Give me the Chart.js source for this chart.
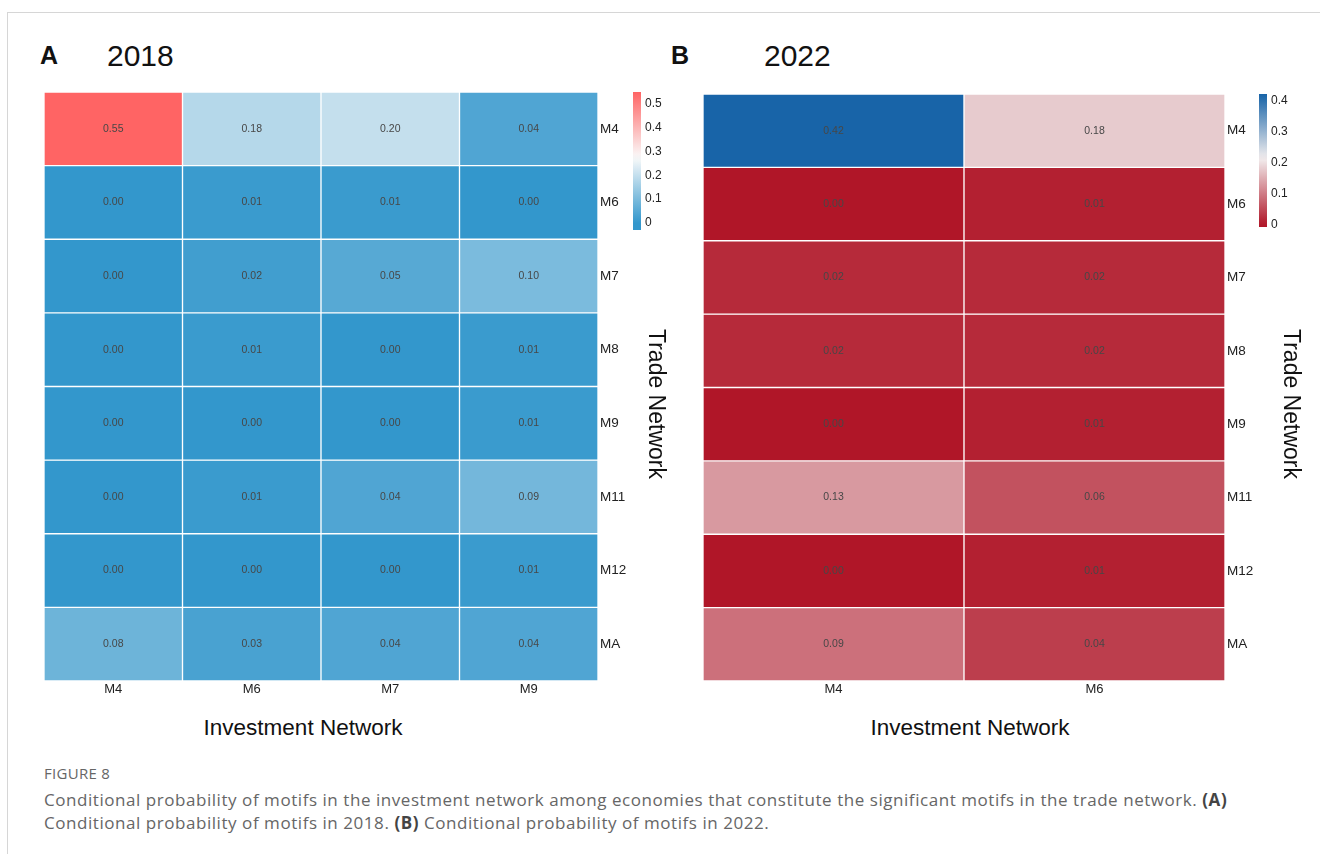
<!DOCTYPE html>
<html>
<head>
<meta charset="utf-8">
<script src="https://cdn.jsdelivr.net/npm/chart.js@4"></script>
<style>
  body { margin: 0; background: #fff; width: 1320px; height: 854px; position: relative; overflow: hidden; font-family: "Liberation Sans", Arial, sans-serif; }
  .frame { position: absolute; left: 7px; top: 12px; right: 0; bottom: 0; border-top: 1px solid #d6d6d6; border-left: 1px solid #d6d6d6; }
  .abs { position: absolute; }
  .panel { font-weight: bold; font-size: 25px; color: #111; }
  .year { font-size: 30px; color: #111; }
  .xtitle { font-size: 22.5px; color: #111; width: 300px; text-align: center; }
  .ytitle { font-size: 23px; color: #111; width: 200px; height: 28px; line-height: 28px; text-align: center; transform: rotate(90deg); }
  .fig { font-family: "Open Sans", sans-serif; font-size: 15px; color: #666; letter-spacing: 0.3px; }
  .cap { font-family: "Open Sans", sans-serif; font-size: 17px; letter-spacing: 0.55px; color: #666; line-height: 23px; width: 1250px; }
  .cap b { color: #444; }
  canvas { position: absolute; }
</style>
</head>
<body>
<div class="frame"></div>
<div class="abs panel" style="left:40px; top:41px;">A</div>
<div class="abs year" style="left:107px; top:39px;">2018</div>
<div class="abs panel" style="left:671px; top:41px;">B</div>
<div class="abs year" style="left:764px; top:39px;">2022</div>

<canvas id="heatA" width="594" height="613" style="left:44px; top:92px;"></canvas>
<canvas id="barA" width="40" height="152" style="left:633px; top:85px;"></canvas>
<canvas id="heatB" width="562" height="611" style="left:703px; top:94px;"></canvas>
<canvas id="barB" width="40" height="147" style="left:1259px; top:87px;"></canvas>

<div class="abs ytitle" style="left:557px; top:390px;">Trade Network</div>
<div class="abs ytitle" style="left:1192px; top:390px;">Trade Network</div>

<div class="abs xtitle" style="left:153px; top:715px;">Investment Network</div>
<div class="abs xtitle" style="left:820px; top:715px;">Investment Network</div>

<div class="abs fig" style="left:44px; top:763px;">FIGURE 8</div>
<div class="abs cap" style="left:44px; top:788px;">Conditional probability of motifs in the investment network among economies that constitute the significant motifs in the trade network. <b>(A)</b> Conditional probability of motifs in 2018. <b>(B)</b> Conditional probability of motifs in 2022.</div>

<script>
// rows = trade network motifs, columns = investment network motifs
const rowLabels = ['M4', 'M6', 'M7', 'M8', 'M9', 'M11', 'M12', 'MA'];

const colsA = ['M4', 'M6', 'M7', 'M9'];
const valuesA = [
    [0.55, 0.18, 0.20, 0.04],
    [0.00, 0.01, 0.01, 0.00],
    [0.00, 0.02, 0.05, 0.10],
    [0.00, 0.01, 0.00, 0.01],
    [0.00, 0.00, 0.00, 0.01],
    [0.00, 0.01, 0.04, 0.09],
    [0.00, 0.00, 0.00, 0.01],
    [0.08, 0.03, 0.04, 0.04]
];

const colsB = ['M4', 'M6'];
const valuesB = [
    [0.42, 0.18],
    [0.00, 0.01],
    [0.02, 0.02],
    [0.02, 0.02],
    [0.00, 0.01],
    [0.13, 0.06],
    [0.00, 0.01],
    [0.09, 0.04]
];

const legendTicksA = [0, 0.1, 0.2, 0.3, 0.4, 0.5];
const legendTicksB = [0, 0.1, 0.2, 0.3, 0.4];

// three-colour ramps (low, mid, high)
function makeRamp(stops) {
    return function (v) {
        let a = stops[0], b = stops[1];
        if (v > stops[1].v) { a = stops[1]; b = stops[2]; }
        let t = (v - a.v) / (b.v - a.v);
        t = Math.max(0, Math.min(1, t));
        const c = a.c.map((x, i) => Math.round(x + (b.c[i] - x) * t));
        return 'rgb(' + c.join(',') + ')';
    };
}

const rampA = makeRamp([
    { v: 0, c: [51, 151, 204] },
    { v: 0.275, c: [250, 250, 250] },
    { v: 0.55, c: [255, 100, 100] }
]);
const rampB = makeRamp([
    { v: 0, c: [176, 22, 40] },
    { v: 0.215, c: [242, 238, 238] },
    { v: 0.42, c: [24, 100, 168] }
]);

// drop the half-label padding chart.js adds round the chart area
function noPad(s) {
    s.paddingTop = 0;
    s.paddingBottom = 0;
    s.paddingLeft = 0;
    s.paddingRight = 0;
}

function drawHeatmap(canvasId, cols, values, ramp) {
    const ctx = document.getElementById(canvasId).getContext('2d');

    const datasets = rowLabels.map((r, i) => ({
        label: r,
        data: cols.map(() => [i, i + 1]),
        backgroundColor: cols.map((c, j) => ramp(values[i][j])),
        borderColor: 'rgba(255,255,255,0.55)',
        borderWidth: 1,
        borderSkipped: false,
        grouped: false,
        categoryPercentage: 1,
        barPercentage: 1
    }));

    const cellText = {
        id: 'cellText',
        afterDatasetsDraw(chart) {
            const c = chart.ctx;
            c.save();
            c.font = '10.5px "Liberation Sans", Arial, sans-serif';
            c.fillStyle = '#474747';
            c.textAlign = 'center';
            c.textBaseline = 'middle';
            chart.data.datasets.forEach((ds, i) => {
                chart.getDatasetMeta(i).data.forEach((el, j) => {
                    c.fillText(values[i][j].toFixed(2), el.x, (el.y + el.base) / 2);
                });
            });
            c.restore();
        }
    };

    new Chart(ctx, {
        type: 'bar',
        data: { labels: cols, datasets: datasets },
        options: {
            responsive: false,
            animation: false,
            devicePixelRatio: 1,
            layout: { padding: 0 },
            plugins: { legend: { display: false }, tooltip: { enabled: false } },
            scales: {
                x: {
                    type: 'category',
                    grid: { display: false, drawTicks: false },
                    border: { display: false },
                    ticks: { color: '#222', font: { size: 13, family: '"Liberation Sans", Arial' }, padding: 1, maxRotation: 0 },
                    afterFit: (s) => { s.height = 24; noPad(s); }
                },
                y: {
                    type: 'linear',
                    position: 'right',
                    reverse: true,
                    min: 0,
                    max: rowLabels.length,
                    grid: { display: false, drawTicks: false },
                    border: { display: false },
                    afterBuildTicks: (s) => { s.ticks = rowLabels.map((r, i) => ({ value: i + 0.5 })); },
                    ticks: {
                        color: '#222',
                        font: { size: 13.5, family: '"Liberation Sans", Arial' },
                        padding: 2,
                        callback: (v) => rowLabels[Math.floor(v)]
                    },
                    afterFit: (s) => { s.width = 40; noPad(s); }
                }
            }
        },
        plugins: [cellText]
    });
}

function drawLegendBar(canvasId, ramp, lo, hi, ticks) {
    const ctx = document.getElementById(canvasId).getContext('2d');
    new Chart(ctx, {
        type: 'bar',
        data: {
            labels: [''],
            datasets: [{
                data: [[lo, hi]],
                borderWidth: 0,
                categoryPercentage: 1,
                barPercentage: 1,
                backgroundColor: (c) => {
                    const chart = c.chart;
                    if (!chart.chartArea) return null;
                    const ys = chart.scales.y;
                    const g = chart.ctx.createLinearGradient(0, ys.getPixelForValue(lo), 0, ys.getPixelForValue(hi));
                    for (let k = 0; k <= 20; k++) {
                        g.addColorStop(k / 20, ramp(lo + (hi - lo) * k / 20));
                    }
                    return g;
                }
            }]
        },
        options: {
            responsive: false,
            animation: false,
            devicePixelRatio: 1,
            layout: { padding: { top: 7, bottom: 7 } },
            plugins: { legend: { display: false }, tooltip: { enabled: false } },
            scales: {
                x: { display: false },
                y: {
                    position: 'right',
                    min: lo,
                    max: hi,
                    grid: { display: false, drawTicks: false },
                    border: { display: false },
                    afterBuildTicks: (s) => { s.ticks = ticks.map((v) => ({ value: v })); },
                    ticks: {
                        color: '#222',
                        font: { size: 12, family: '"Liberation Sans", Arial' },
                        padding: 4,
                        callback: (v) => (v === 0 ? '0' : v.toFixed(1))
                    },
                    afterFit: (s) => { s.width = 32; noPad(s); }
                }
            }
        }
    });
}

drawHeatmap('heatA', colsA, valuesA, rampA);
drawHeatmap('heatB', colsB, valuesB, rampB);
drawLegendBar('barA', rampA, -0.03, 0.55, legendTicksA);
drawLegendBar('barB', rampB, -0.0065, 0.4226, legendTicksB);
</script>
</body>
</html>
